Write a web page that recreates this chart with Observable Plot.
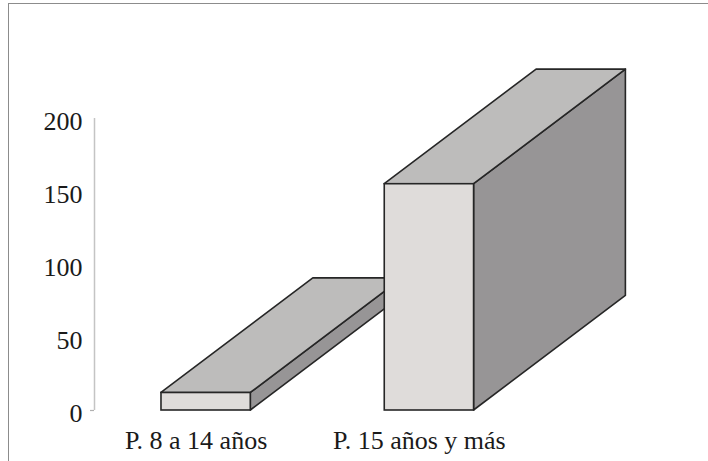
<!DOCTYPE html>
<html>
<head>
<meta charset="utf-8">
<script src="https://cdn.jsdelivr.net/npm/d3@7"></script>
<script src="https://cdn.jsdelivr.net/npm/@observablehq/plot@0.6"></script>
<style>
  html, body { margin: 0; padding: 0; background: #fff; overflow: hidden; }
  #wrap { position: relative; width: 708px; height: 461px; }
  #border { position: absolute; left: 8px; top: 3px; width: 760px; height: 520px;
            border-left: 1.5px solid #8c8c8c; border-top: 1.5px solid #8c8c8c; pointer-events: none; }
  #chart { position: absolute; left: 0; top: 0; }
  #chart svg, #chart svg text { font-family: "Liberation Serif", "DejaVu Serif", serif !important; }
</style>
</head>
<body>
<div id="wrap"><div id="chart"></div><div id="border"></div></div>
<script>
const categories = ["P. 8 a 14 años", "P. 15 años y más"];
const values = [12, 155];
const yTicks = [0, 50, 100, 150, 200];

// geometry (style constants)
const xDomain = [-0.5, 2.25];
const HW = 0.2;      // half bar width (category units)
const DX = 0.68;     // depth along x (category units)
const DY = 78.5;     // depth along y (value units)
const STROKE = "#262626";
const SW = 1.6;
const FONT = "Liberation Serif";

const bars = categories.map((c, i) => ({c, i, v: values[i]}));
const sideFaces = bars.flatMap(d => [
  {c: d.c, x: d.i + HW, y1: 0, y2: d.v},
  {c: d.c, x: d.i + HW + DX, y1: DY, y2: d.v + DY}
]);
const topFaces = bars.flatMap(d => [
  {c: d.c, y: d.v, x1: d.i - HW, x2: d.i + HW},
  {c: d.c, y: d.v + DY, x1: d.i - HW + DX, x2: d.i + HW + DX}
]);

const chart = Plot.plot({
  width: 708,
  height: 461,
  marginLeft: 94,
  marginRight: 0,
  marginTop: 118,
  marginBottom: 51,
  style: {fontFamily: FONT, background: "transparent", overflow: "visible"},
  x: {type: "linear", domain: xDomain, axis: null},
  y: {domain: [0, 200], axis: null},
  marks: [
    Plot.ruleX([xDomain[0]], {y1: 0, y2: 200, stroke: "#c4c4c4", strokeWidth: 1.5}),
    Plot.ruleY([0], {x1: xDomain[0] - 0.018, x2: xDomain[0], stroke: "#b0b0b0", strokeWidth: 1.2}),
    Plot.text(yTicks, {x: xDomain[0], y: d => d, text: d => String(d), textAnchor: "end", dx: -12, dy: 3, fontSize: 26, fontFamily: FONT, fill: "#1a1a1a"}),
    Plot.areaY(sideFaces, {x: "x", y1: "y1", y2: "y2", z: "c", fill: "#979596", stroke: STROKE, strokeWidth: SW, strokeLinejoin: "round"}),
    Plot.areaX(topFaces, {y: "y", x1: "x1", x2: "x2", z: "c", fill: "#bdbcbb", stroke: STROKE, strokeWidth: SW, strokeLinejoin: "round"}),
    Plot.rect(bars, {x1: d => d.i - HW, x2: d => d.i + HW, y1: 0, y2: "v", fill: "#dfdcda", stroke: STROKE, strokeWidth: SW}),
    Plot.text(bars, {x: "i", y: 0, text: "c", dx: -10, dy: 30, fontSize: 26, fontFamily: FONT, fill: "#1a1a1a"})
  ]
});
document.getElementById("chart").appendChild(chart);
</script>
</body>
</html>
